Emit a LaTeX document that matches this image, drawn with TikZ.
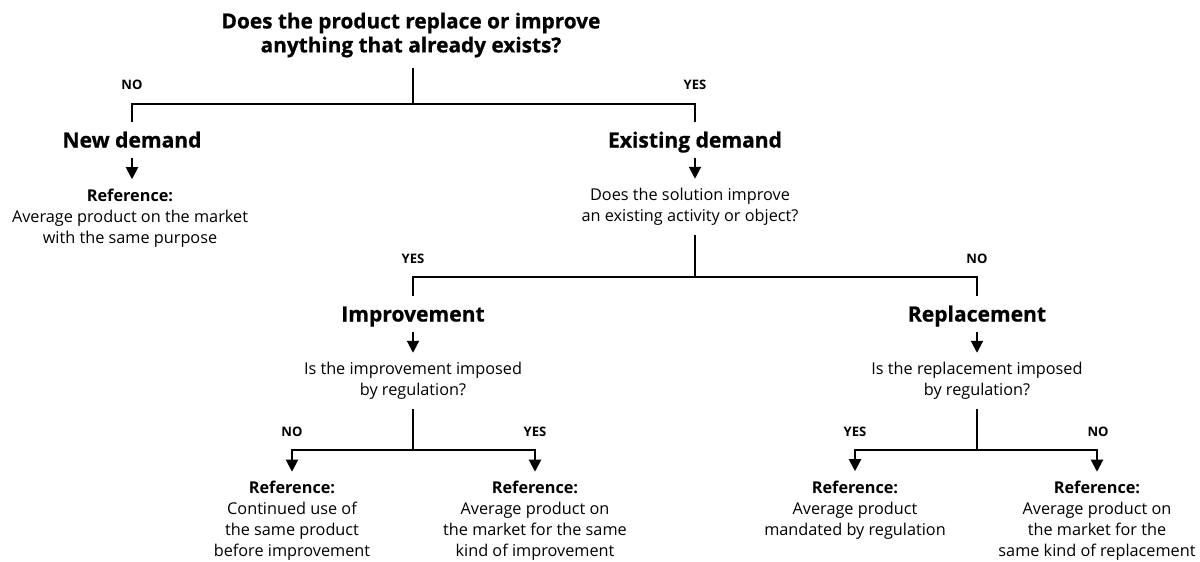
\documentclass[tikz,border=0pt]{standalone}
\usepackage{fontspec}
\setmainfont{Open Sans}
\newfontfamily\heavyfam{Open Sans}[BoldFeatures={FakeBold=0.7}]
\usetikzlibrary{arrows.meta}
\begin{document}
\begin{tikzpicture}[x=0.75pt,y=-0.75pt,
  conn/.style={line width=1.5pt},
  arr/.style={line width=1.5pt,-{Triangle[length=9pt,width=9pt]}},
  titlebox/.style={align=center,inner xsep=0pt,inner ysep=8pt,
    font=\fontsize{15.6}{18}\selectfont\heavyfam\bfseries},
  head/.style={inner xsep=2pt,inner ysep=0pt,text height=11.3pt,text depth=0pt,
    outer ysep=7.8pt,font=\fontsize{15.8}{18}\selectfont\heavyfam\bfseries},
  body/.style={align=center,inner xsep=0pt,inner ysep=7pt,
    font=\fontsize{12.2}{15.75}\selectfont},
  lbl/.style={font=\fontsize{9.8}{11}\selectfont\bfseries,inner sep=0pt}]
\useasboundingbox (0,0) rectangle (1200,561);
\fill[white] (0,0) rectangle (1200,561);

% nodes
\node[titlebox] (title) at (411,35) {Does the product replace or improve\\anything that already exists?};
\node[head] (newd) at (132,140) {New demand};
\node[head] (exd) at (695,140) {Existing demand};
\node[body] (refnew) at (130,218) {{\bfseries Reference:}\\Average product on the market\\with the same purpose};
\node[body] (q1) at (690,207) {Does the solution improve\\an existing activity or object?};
\node[head] (impr) at (413,314) {Improvement};
\node[head] (repl) at (977,314) {Replacement};
\node[body] (q2) at (413,381) {Is the improvement imposed\\by regulation?};
\node[body] (q3) at (977,381) {Is the replacement imposed\\by regulation?};
\node[body] (r1) at (292,521) {{\bfseries Reference:}\\Continued use of\\the same product\\before improvement};
\node[body] (r2) at (535,521) {{\bfseries Reference:}\\Average product on\\the market for the same\\kind of improvement};
\node[body] (r3) at (855,510) {{\bfseries Reference:}\\Average product\\mandated by regulation};
\node[body] (r4) at (1097,521) {{\bfseries Reference:}\\Average product on\\the market for the\\same kind of replacement};

% labels
\node[lbl] (l1) at (132,85) {NO};
\node[lbl] (l2) at (695,85) {YES};
\node[lbl] (l3) at (413,259) {YES};
\node[lbl] (l4) at (977,259) {NO};
\node[lbl] (l5) at (292,432) {NO};
\node[lbl] (l6) at (535,432) {YES};
\node[lbl] (l7) at (855,432) {YES};
\node[lbl] (l8) at (1098,432) {NO};

% junctions
\coordinate (j0) at (413,104);
\coordinate (j1) at (695,277);
\coordinate (j2) at (413,450);
\coordinate (j3) at (977,450);

% connectors
\draw[conn] (title.south -| j0) -- (j0);
\draw[conn] (newd.north) |- (j0) -| (exd.north);
\draw[arr] (newd.south) -- (newd.south |- refnew.north);
\draw[arr] (exd.south) -- (exd.south |- q1.north);
\draw[conn] (q1.south -| j1) -- (j1);
\draw[conn] (impr.north) |- (j1) -| (repl.north);
\draw[arr] (impr.south) -- (q2.north);
\draw[arr] (repl.south) -- (q3.north);
\draw[conn] (q2.south) -- (j2);
\draw[conn] (q3.south) -- (j3);
\draw[arr] (j2) -| (r1.north);
\draw[arr] (j2) -| (r2.north);
\draw[arr] (j3) -| (r3.north);
\draw[arr] (j3) -| (r4.north);
\end{tikzpicture}
\end{document}
